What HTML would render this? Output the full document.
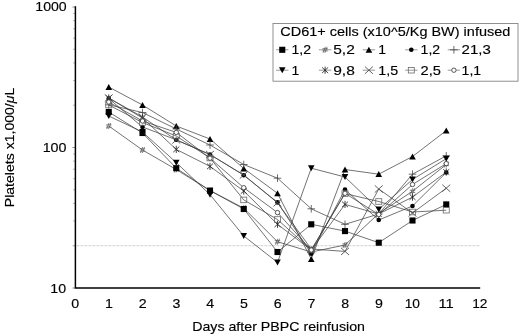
<!DOCTYPE html>
<html><head><meta charset="utf-8"><title>Platelets after PBPC reinfusion</title>
<style>
html,body{margin:0;padding:0;background:#fff}
svg{display:block;font-family:"Liberation Sans",sans-serif;fill:#111;filter:grayscale(1)}
</style></head>
<body>
<svg width="520" height="336" viewBox="0 0 520 336">
<rect width="520" height="336" fill="#fff"/>
<line x1="72.4" y1="245.71" x2="480" y2="245.71" stroke="#c4c4c4" stroke-width="0.8" stroke-dasharray="3 1"/>
<path d="M73.00 245.71H75.4M73.00 220.96H75.4M73.00 203.41H75.4M73.00 189.79H75.4M73.00 178.67H75.4M73.00 169.26H75.4M73.00 161.12H75.4M73.00 153.93H75.4M73.00 105.21H75.4M73.00 80.46H75.4M73.00 62.91H75.4M73.00 49.29H75.4M73.00 38.17H75.4M73.00 28.76H75.4M73.00 20.62H75.4M73.00 13.43H75.4" stroke="#999" stroke-width="0.7" fill="none"/>
<path d="M72.40 288.00H75.4M72.40 147.50H75.4M72.40 7.00H75.4" stroke="#777" stroke-width="0.8" fill="none"/>
<path d="M75.4 6.2V288.0H480.2" stroke="#000" stroke-width="1.5" fill="none" stroke-linejoin="miter"/>
<polyline points="108.75,126.00 142.50,150.00 176.25,169.50 210.00,190.50 243.75,208.20 277.50,241.70 311.25,252.00 345.00,245.00 378.75,213.50 412.50,191.30 446.25,164.50" fill="none" stroke="#3c3c3c" stroke-width="0.72"/>
<path d="M106.05 124.90H111.45M106.05 127.10H111.45M106.75 129.00L108.95 123.00M108.55 129.00L110.75 123.00" stroke="#555" stroke-width="0.75" fill="none"/>
<path d="M139.80 148.90H145.20M139.80 151.10H145.20M140.50 153.00L142.70 147.00M142.30 153.00L144.50 147.00" stroke="#555" stroke-width="0.75" fill="none"/>
<path d="M173.55 168.40H178.95M173.55 170.60H178.95M174.25 172.50L176.45 166.50M176.05 172.50L178.25 166.50" stroke="#555" stroke-width="0.75" fill="none"/>
<path d="M207.30 189.40H212.70M207.30 191.60H212.70M208.00 193.50L210.20 187.50M209.80 193.50L212.00 187.50" stroke="#555" stroke-width="0.75" fill="none"/>
<path d="M241.05 207.10H246.45M241.05 209.30H246.45M241.75 211.20L243.95 205.20M243.55 211.20L245.75 205.20" stroke="#555" stroke-width="0.75" fill="none"/>
<path d="M274.80 240.60H280.20M274.80 242.80H280.20M275.50 244.70L277.70 238.70M277.30 244.70L279.50 238.70" stroke="#555" stroke-width="0.75" fill="none"/>
<path d="M308.55 250.90H313.95M308.55 253.10H313.95M309.25 255.00L311.45 249.00M311.05 255.00L313.25 249.00" stroke="#555" stroke-width="0.75" fill="none"/>
<path d="M342.30 243.90H347.70M342.30 246.10H347.70M343.00 248.00L345.20 242.00M344.80 248.00L347.00 242.00" stroke="#555" stroke-width="0.75" fill="none"/>
<path d="M376.05 212.40H381.45M376.05 214.60H381.45M376.75 216.50L378.95 210.50M378.55 216.50L380.75 210.50" stroke="#555" stroke-width="0.75" fill="none"/>
<path d="M409.80 190.20H415.20M409.80 192.40H415.20M410.50 194.30L412.70 188.30M412.30 194.30L414.50 188.30" stroke="#555" stroke-width="0.75" fill="none"/>
<path d="M443.55 163.40H448.95M443.55 165.60H448.95M444.25 167.50L446.45 161.50M446.05 167.50L448.25 161.50" stroke="#555" stroke-width="0.75" fill="none"/>
<polyline points="108.75,112.00 142.50,133.00 176.25,168.20 210.00,190.60 243.75,209.00 277.50,252.00 311.25,224.30 345.00,231.10 378.75,242.70 412.50,220.50 446.25,204.40" fill="none" stroke="#3c3c3c" stroke-width="0.72"/>
<rect x="105.70" y="108.95" width="6.1" height="6.1" fill="#000"/>
<rect x="139.45" y="129.95" width="6.1" height="6.1" fill="#000"/>
<rect x="173.20" y="165.15" width="6.1" height="6.1" fill="#000"/>
<rect x="206.95" y="187.55" width="6.1" height="6.1" fill="#000"/>
<rect x="240.70" y="205.95" width="6.1" height="6.1" fill="#000"/>
<rect x="274.45" y="248.95" width="6.1" height="6.1" fill="#000"/>
<rect x="308.20" y="221.25" width="6.1" height="6.1" fill="#000"/>
<rect x="341.95" y="228.05" width="6.1" height="6.1" fill="#000"/>
<rect x="375.70" y="239.65" width="6.1" height="6.1" fill="#000"/>
<rect x="409.45" y="217.45" width="6.1" height="6.1" fill="#000"/>
<rect x="443.20" y="201.35" width="6.1" height="6.1" fill="#000"/>
<polyline points="108.75,87.00 142.50,105.00 176.25,126.00 210.00,139.00 243.75,168.50 277.50,193.30 311.25,259.10 345.00,169.50 378.75,174.20 412.50,156.50 446.25,130.60" fill="none" stroke="#3c3c3c" stroke-width="0.72"/>
<path d="M105.45 89.90L112.05 89.90L108.75 83.90Z" fill="#000"/>
<path d="M139.20 107.90L145.80 107.90L142.5 101.90Z" fill="#000"/>
<path d="M172.95 128.90L179.55 128.90L176.25 122.90Z" fill="#000"/>
<path d="M206.70 141.90L213.30 141.90L210.0 135.90Z" fill="#000"/>
<path d="M240.45 171.40L247.05 171.40L243.75 165.40Z" fill="#000"/>
<path d="M274.20 196.20L280.80 196.20L277.5 190.20Z" fill="#000"/>
<path d="M307.95 262.00L314.55 262.00L311.25 256.00Z" fill="#000"/>
<path d="M341.70 172.40L348.30 172.40L345.0 166.40Z" fill="#000"/>
<path d="M375.45 177.10L382.05 177.10L378.75 171.10Z" fill="#000"/>
<path d="M409.20 159.40L415.80 159.40L412.5 153.40Z" fill="#000"/>
<path d="M442.95 133.50L449.55 133.50L446.25 127.50Z" fill="#000"/>
<polyline points="108.75,98.60 142.50,127.00 176.25,139.80 210.00,154.50 243.75,175.20 277.50,202.40 311.25,253.60 345.00,189.50 378.75,220.00 412.50,206.00 446.25,172.50" fill="none" stroke="#3c3c3c" stroke-width="0.72"/>
<circle cx="108.75" cy="98.6" r="2.3" fill="#000"/>
<circle cx="142.5" cy="127" r="2.3" fill="#000"/>
<circle cx="176.25" cy="139.8" r="2.3" fill="#000"/>
<circle cx="210.0" cy="154.5" r="2.3" fill="#000"/>
<circle cx="243.75" cy="175.2" r="2.3" fill="#000"/>
<circle cx="277.5" cy="202.4" r="2.3" fill="#000"/>
<circle cx="311.25" cy="253.6" r="2.3" fill="#000"/>
<circle cx="345.0" cy="189.5" r="2.3" fill="#000"/>
<circle cx="378.75" cy="220" r="2.3" fill="#000"/>
<circle cx="412.5" cy="206" r="2.3" fill="#000"/>
<circle cx="446.25" cy="172.5" r="2.3" fill="#000"/>
<polyline points="108.75,104.80 142.50,112.50 176.25,129.00 210.00,145.00 243.75,164.50 277.50,178.20 311.25,208.80 345.00,224.30 378.75,214.00 412.50,174.20 446.25,155.80" fill="none" stroke="#3c3c3c" stroke-width="0.72"/>
<path d="M104.95 104.8H112.55M108.75 101.00V108.60" stroke="#484848" stroke-width="0.8" fill="none"/>
<path d="M138.70 112.5H146.30M142.5 108.70V116.30" stroke="#484848" stroke-width="0.8" fill="none"/>
<path d="M172.45 129H180.05M176.25 125.20V132.80" stroke="#484848" stroke-width="0.8" fill="none"/>
<path d="M206.20 145H213.80M210.0 141.20V148.80" stroke="#484848" stroke-width="0.8" fill="none"/>
<path d="M239.95 164.5H247.55M243.75 160.70V168.30" stroke="#484848" stroke-width="0.8" fill="none"/>
<path d="M273.70 178.2H281.30M277.5 174.40V182.00" stroke="#484848" stroke-width="0.8" fill="none"/>
<path d="M307.45 208.8H315.05M311.25 205.00V212.60" stroke="#484848" stroke-width="0.8" fill="none"/>
<path d="M341.20 224.3H348.80M345.0 220.50V228.10" stroke="#484848" stroke-width="0.8" fill="none"/>
<path d="M374.95 214H382.55M378.75 210.20V217.80" stroke="#484848" stroke-width="0.8" fill="none"/>
<path d="M408.70 174.2H416.30M412.5 170.40V178.00" stroke="#484848" stroke-width="0.8" fill="none"/>
<path d="M442.45 155.8H450.05M446.25 152.00V159.60" stroke="#484848" stroke-width="0.8" fill="none"/>
<polyline points="108.75,116.00 142.50,132.00 176.25,162.60 210.00,194.60 243.75,236.00 277.50,262.40 311.25,168.20 345.00,177.00 378.75,209.30 412.50,179.50 446.25,158.70" fill="none" stroke="#3c3c3c" stroke-width="0.72"/>
<path d="M105.45 113.10L112.05 113.10L108.75 119.10Z" fill="#000"/>
<path d="M139.20 129.10L145.80 129.10L142.5 135.10Z" fill="#000"/>
<path d="M172.95 159.70L179.55 159.70L176.25 165.70Z" fill="#000"/>
<path d="M206.70 191.70L213.30 191.70L210.0 197.70Z" fill="#000"/>
<path d="M240.45 233.10L247.05 233.10L243.75 239.10Z" fill="#000"/>
<path d="M274.20 259.50L280.80 259.50L277.5 265.50Z" fill="#000"/>
<path d="M307.95 165.30L314.55 165.30L311.25 171.30Z" fill="#000"/>
<path d="M341.70 174.10L348.30 174.10L345.0 180.10Z" fill="#000"/>
<path d="M375.45 206.40L382.05 206.40L378.75 212.40Z" fill="#000"/>
<path d="M409.20 176.60L415.80 176.60L412.5 182.60Z" fill="#000"/>
<path d="M442.95 155.80L449.55 155.80L446.25 161.80Z" fill="#000"/>
<polyline points="108.75,98.00 142.50,118.00 176.25,149.40 210.00,166.40 243.75,191.00 277.50,224.30 311.25,250.00 345.00,204.40 378.75,214.00 412.50,197.10 446.25,172.00" fill="none" stroke="#3c3c3c" stroke-width="0.72"/>
<path d="M105.75 95.20L111.75 100.80M105.75 100.80L111.75 95.20M108.75 94.40V101.60" stroke="#222" stroke-width="0.85" fill="none"/>
<path d="M139.50 115.20L145.50 120.80M139.50 120.80L145.50 115.20M142.5 114.40V121.60" stroke="#222" stroke-width="0.85" fill="none"/>
<path d="M173.25 146.60L179.25 152.20M173.25 152.20L179.25 146.60M176.25 145.80V153.00" stroke="#222" stroke-width="0.85" fill="none"/>
<path d="M207.00 163.60L213.00 169.20M207.00 169.20L213.00 163.60M210.0 162.80V170.00" stroke="#222" stroke-width="0.85" fill="none"/>
<path d="M240.75 188.20L246.75 193.80M240.75 193.80L246.75 188.20M243.75 187.40V194.60" stroke="#222" stroke-width="0.85" fill="none"/>
<path d="M274.50 221.50L280.50 227.10M274.50 227.10L280.50 221.50M277.5 220.70V227.90" stroke="#222" stroke-width="0.85" fill="none"/>
<path d="M308.25 247.20L314.25 252.80M308.25 252.80L314.25 247.20M311.25 246.40V253.60" stroke="#222" stroke-width="0.85" fill="none"/>
<path d="M342.00 201.60L348.00 207.20M342.00 207.20L348.00 201.60M345.0 200.80V208.00" stroke="#222" stroke-width="0.85" fill="none"/>
<path d="M375.75 211.20L381.75 216.80M375.75 216.80L381.75 211.20M378.75 210.40V217.60" stroke="#222" stroke-width="0.85" fill="none"/>
<path d="M409.50 194.30L415.50 199.90M409.50 199.90L415.50 194.30M412.5 193.50V200.70" stroke="#222" stroke-width="0.85" fill="none"/>
<path d="M443.25 169.20L449.25 174.80M443.25 174.80L449.25 169.20M446.25 168.40V175.60" stroke="#222" stroke-width="0.85" fill="none"/>
<polyline points="108.75,98.00 142.50,117.00 176.25,140.00 210.00,154.50 243.75,175.00 277.50,202.80 311.25,249.00 345.00,251.40 378.75,189.00 412.50,213.00 446.25,188.20" fill="none" stroke="#3c3c3c" stroke-width="0.72"/>
<path d="M104.75 94.40L112.75 101.60M104.75 101.60L112.75 94.40" stroke="#484848" stroke-width="0.85" fill="none"/>
<path d="M138.50 113.40L146.50 120.60M138.50 120.60L146.50 113.40" stroke="#484848" stroke-width="0.85" fill="none"/>
<path d="M172.25 136.40L180.25 143.60M172.25 143.60L180.25 136.40" stroke="#484848" stroke-width="0.85" fill="none"/>
<path d="M206.00 150.90L214.00 158.10M206.00 158.10L214.00 150.90" stroke="#484848" stroke-width="0.85" fill="none"/>
<path d="M239.75 171.40L247.75 178.60M239.75 178.60L247.75 171.40" stroke="#484848" stroke-width="0.85" fill="none"/>
<path d="M273.50 199.20L281.50 206.40M273.50 206.40L281.50 199.20" stroke="#484848" stroke-width="0.85" fill="none"/>
<path d="M307.25 245.40L315.25 252.60M307.25 252.60L315.25 245.40" stroke="#484848" stroke-width="0.85" fill="none"/>
<path d="M341.00 247.80L349.00 255.00M341.00 255.00L349.00 247.80" stroke="#484848" stroke-width="0.85" fill="none"/>
<path d="M374.75 185.40L382.75 192.60M374.75 192.60L382.75 185.40" stroke="#484848" stroke-width="0.85" fill="none"/>
<path d="M408.50 209.40L416.50 216.60M408.50 216.60L416.50 209.40" stroke="#484848" stroke-width="0.85" fill="none"/>
<path d="M442.25 184.60L450.25 191.80M442.25 191.80L450.25 184.60" stroke="#484848" stroke-width="0.85" fill="none"/>
<polyline points="108.75,105.00 142.50,122.50 176.25,136.00 210.00,158.00 243.75,199.90 277.50,219.50 311.25,250.00 345.00,193.60 378.75,201.50 412.50,212.00 446.25,210.20" fill="none" stroke="#3c3c3c" stroke-width="0.72"/>
<rect x="105.75" y="102.20" width="6" height="5.6" fill="none" stroke="#6a6a6a" stroke-width="0.8"/>
<rect x="139.50" y="119.70" width="6" height="5.6" fill="none" stroke="#6a6a6a" stroke-width="0.8"/>
<rect x="173.25" y="133.20" width="6" height="5.6" fill="none" stroke="#6a6a6a" stroke-width="0.8"/>
<rect x="207.00" y="155.20" width="6" height="5.6" fill="none" stroke="#6a6a6a" stroke-width="0.8"/>
<rect x="240.75" y="197.10" width="6" height="5.6" fill="none" stroke="#6a6a6a" stroke-width="0.8"/>
<rect x="274.50" y="216.70" width="6" height="5.6" fill="none" stroke="#6a6a6a" stroke-width="0.8"/>
<rect x="308.25" y="247.20" width="6" height="5.6" fill="none" stroke="#6a6a6a" stroke-width="0.8"/>
<rect x="342.00" y="190.80" width="6" height="5.6" fill="none" stroke="#6a6a6a" stroke-width="0.8"/>
<rect x="375.75" y="198.70" width="6" height="5.6" fill="none" stroke="#6a6a6a" stroke-width="0.8"/>
<rect x="409.50" y="209.20" width="6" height="5.6" fill="none" stroke="#6a6a6a" stroke-width="0.8"/>
<rect x="443.25" y="207.40" width="6" height="5.6" fill="none" stroke="#6a6a6a" stroke-width="0.8"/>
<polyline points="108.75,102.00 142.50,121.00 176.25,132.40 210.00,158.20 243.75,187.70 277.50,212.60 311.25,250.00 345.00,193.30 378.75,214.50 412.50,184.50 446.25,163.60" fill="none" stroke="#3c3c3c" stroke-width="0.72"/>
<circle cx="108.75" cy="102" r="2.2" fill="#fff" stroke="#444" stroke-width="0.9"/>
<circle cx="142.5" cy="121" r="2.2" fill="#fff" stroke="#444" stroke-width="0.9"/>
<circle cx="176.25" cy="132.4" r="2.2" fill="#fff" stroke="#444" stroke-width="0.9"/>
<circle cx="210.0" cy="158.2" r="2.2" fill="#fff" stroke="#444" stroke-width="0.9"/>
<circle cx="243.75" cy="187.7" r="2.2" fill="#fff" stroke="#444" stroke-width="0.9"/>
<circle cx="277.5" cy="212.6" r="2.2" fill="#fff" stroke="#444" stroke-width="0.9"/>
<circle cx="311.25" cy="250" r="2.2" fill="#fff" stroke="#444" stroke-width="0.9"/>
<circle cx="345.0" cy="193.3" r="2.2" fill="#fff" stroke="#444" stroke-width="0.9"/>
<circle cx="378.75" cy="214.5" r="2.2" fill="#fff" stroke="#444" stroke-width="0.9"/>
<circle cx="412.5" cy="184.5" r="2.2" fill="#fff" stroke="#444" stroke-width="0.9"/>
<circle cx="446.25" cy="163.6" r="2.2" fill="#fff" stroke="#444" stroke-width="0.9"/>
<rect x="273" y="23.5" width="245" height="57.7" fill="#fff" stroke="#858585" stroke-width="0.9"/>
<line x1="276.05" y1="49.8" x2="288.45" y2="49.8" stroke="#777" stroke-width="0.75"/>
<rect x="279.20" y="46.75" width="6.1" height="6.1" fill="#000"/>
<line x1="318.90000000000003" y1="49.8" x2="331.3" y2="49.8" stroke="#777" stroke-width="0.75"/>
<path d="M322.40 48.70H327.80M322.40 50.90H327.80M323.10 52.80L325.30 46.80M324.90 52.80L327.10 46.80" stroke="#555" stroke-width="0.75" fill="none"/>
<line x1="362.7" y1="49.8" x2="375.09999999999997" y2="49.8" stroke="#777" stroke-width="0.75"/>
<path d="M365.60 52.70L372.20 52.70L368.9 46.70Z" fill="#000"/>
<line x1="405.1" y1="49.8" x2="417.5" y2="49.8" stroke="#777" stroke-width="0.75"/>
<circle cx="411.3" cy="49.8" r="2.3" fill="#000"/>
<line x1="447.7" y1="49.8" x2="460.09999999999997" y2="49.8" stroke="#777" stroke-width="0.75"/>
<path d="M450.10 49.8H457.70M453.9 46.00V53.60" stroke="#484848" stroke-width="0.8" fill="none"/>
<line x1="276.05" y1="70.2" x2="288.45" y2="70.2" stroke="#777" stroke-width="0.75"/>
<path d="M278.95 67.30L285.55 67.30L282.25 73.30Z" fill="#000"/>
<line x1="318.90000000000003" y1="70.2" x2="331.3" y2="70.2" stroke="#777" stroke-width="0.75"/>
<path d="M322.10 67.40L328.10 73.00M322.10 73.00L328.10 67.40M325.1 66.60V73.80" stroke="#222" stroke-width="0.85" fill="none"/>
<line x1="362.7" y1="70.2" x2="375.09999999999997" y2="70.2" stroke="#777" stroke-width="0.75"/>
<path d="M364.90 66.60L372.90 73.80M364.90 73.80L372.90 66.60" stroke="#484848" stroke-width="0.85" fill="none"/>
<line x1="405.1" y1="70.2" x2="417.5" y2="70.2" stroke="#777" stroke-width="0.75"/>
<rect x="408.30" y="67.40" width="6" height="5.6" fill="none" stroke="#6a6a6a" stroke-width="0.8"/>
<line x1="447.7" y1="70.2" x2="460.09999999999997" y2="70.2" stroke="#777" stroke-width="0.75"/>
<circle cx="453.9" cy="70.2" r="2.2" fill="#fff" stroke="#444" stroke-width="0.9"/>
<g fill="#000" stroke="#000" stroke-width="0.15">
<text x="66.7" y="11.2" font-size="13.5" text-anchor="end" textLength="31.4" lengthAdjust="spacingAndGlyphs">1000</text>
<text x="66.5" y="152.2" font-size="13.5" text-anchor="end" textLength="23.8" lengthAdjust="spacingAndGlyphs">100</text>
<text x="66.1" y="293.0" font-size="13.5" text-anchor="end" textLength="15.8" lengthAdjust="spacingAndGlyphs">10</text>
<text x="75.3" y="307.5" font-size="13.5" text-anchor="middle" textLength="7.9" lengthAdjust="spacingAndGlyphs">0</text>
<text x="109.05" y="307.5" font-size="13.5" text-anchor="middle" textLength="7.9" lengthAdjust="spacingAndGlyphs">1</text>
<text x="142.8" y="307.5" font-size="13.5" text-anchor="middle" textLength="7.9" lengthAdjust="spacingAndGlyphs">2</text>
<text x="176.55" y="307.5" font-size="13.5" text-anchor="middle" textLength="7.9" lengthAdjust="spacingAndGlyphs">3</text>
<text x="210.3" y="307.5" font-size="13.5" text-anchor="middle" textLength="7.9" lengthAdjust="spacingAndGlyphs">4</text>
<text x="244.05" y="307.5" font-size="13.5" text-anchor="middle" textLength="7.9" lengthAdjust="spacingAndGlyphs">5</text>
<text x="277.8" y="307.5" font-size="13.5" text-anchor="middle" textLength="7.9" lengthAdjust="spacingAndGlyphs">6</text>
<text x="311.55" y="307.5" font-size="13.5" text-anchor="middle" textLength="7.9" lengthAdjust="spacingAndGlyphs">7</text>
<text x="345.3" y="307.5" font-size="13.5" text-anchor="middle" textLength="7.9" lengthAdjust="spacingAndGlyphs">8</text>
<text x="379.05" y="307.5" font-size="13.5" text-anchor="middle" textLength="7.9" lengthAdjust="spacingAndGlyphs">9</text>
<text x="412.3" y="307.5" font-size="13.5" text-anchor="middle" textLength="15.3" lengthAdjust="spacingAndGlyphs">10</text>
<text x="446.05" y="307.5" font-size="13.5" text-anchor="middle" textLength="15.3" lengthAdjust="spacingAndGlyphs">11</text>
<text x="479.8" y="307.5" font-size="13.5" text-anchor="middle" textLength="15.3" lengthAdjust="spacingAndGlyphs">12</text>
<text x="192.2" y="330.7" font-size="13.5" text-anchor="start" textLength="172.8" lengthAdjust="spacingAndGlyphs">Days after PBPC reinfusion</text>
<text transform="translate(13.9 207.2) rotate(-90)" font-size="13.5" textLength="119.5" lengthAdjust="spacingAndGlyphs">Platelets x1,000/<tspan font-style="italic">μ</tspan>L</text>
<text x="280.3" y="36.2" font-size="13.6" text-anchor="start" textLength="230" lengthAdjust="spacingAndGlyphs">CD61+ cells (x10^5/Kg BW) infused</text>
<text x="291.5" y="54.4" font-size="13.5" text-anchor="start" textLength="19.6" lengthAdjust="spacingAndGlyphs">1,2</text>
<text x="333.2" y="54.4" font-size="13.5" text-anchor="start" textLength="21.6" lengthAdjust="spacingAndGlyphs">5,2</text>
<text x="378.3" y="54.4" font-size="13.5" text-anchor="start" textLength="7.8" lengthAdjust="spacingAndGlyphs">1</text>
<text x="420.6" y="54.4" font-size="13.5" text-anchor="start" textLength="19.6" lengthAdjust="spacingAndGlyphs">1,2</text>
<text x="461.6" y="54.4" font-size="13.5" text-anchor="start" textLength="29.2" lengthAdjust="spacingAndGlyphs">21,3</text>
<text x="291.5" y="74.7" font-size="13.5" text-anchor="start" textLength="7.8" lengthAdjust="spacingAndGlyphs">1</text>
<text x="333.2" y="74.7" font-size="13.5" text-anchor="start" textLength="21.6" lengthAdjust="spacingAndGlyphs">9,8</text>
<text x="378.3" y="74.7" font-size="13.5" text-anchor="start" textLength="19.8" lengthAdjust="spacingAndGlyphs">1,5</text>
<text x="420.6" y="74.7" font-size="13.5" text-anchor="start" textLength="20.4" lengthAdjust="spacingAndGlyphs">2,5</text>
<text x="461.6" y="74.7" font-size="13.5" text-anchor="start" textLength="19.6" lengthAdjust="spacingAndGlyphs">1,1</text>
</g>
</svg>
</body></html>
